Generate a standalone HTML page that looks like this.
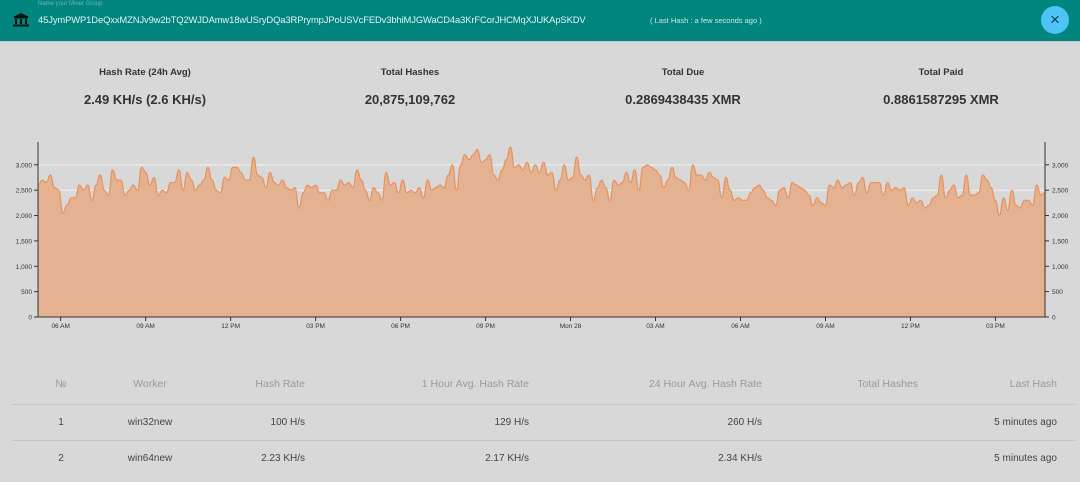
<!DOCTYPE html>
<html><head><meta charset="utf-8"><style>
body{margin:0;width:1080px;height:482px;background:#d8d8d8;font-family:"Liberation Sans",sans-serif;overflow:hidden;position:relative}
.abs{position:absolute}
#hdr{left:0;top:0;width:1080px;height:41px;background:#00857f;border-bottom:1px solid #c8c8c8}
.stat{position:absolute;width:240px;text-align:center;color:#333;font-weight:bold}
.lbl{font-size:9.5px;top:67px}
.val{font-size:13px;top:92px}
.th,.td{position:absolute;font-size:10px;white-space:nowrap}
.th{color:#999;top:378px;font-size:10.5px}
.td{color:#444}
.sep{position:absolute;left:12px;width:1063px;height:1px;background:#c4c4c4}
</style></head><body>
<div id="hdr" class="abs">
  <div class="abs" style="left:38px;top:1px;font-size:6px;color:#6fb5b0">Name your Miner Group</div>
  <svg class="abs" style="left:13px;top:13px" width="16" height="14"><polygon points="8,0 16,4 0,4" fill="#111"/><rect x="1" y="4" width="14" height="1.5" fill="#111"/><rect x="2" y="6" width="2" height="5" fill="#111"/><rect x="7" y="6" width="2" height="5" fill="#111"/><rect x="12" y="6" width="2" height="5" fill="#111"/><rect x="0" y="11.5" width="16" height="2" fill="#111"/></svg>
  <div class="abs" style="left:38px;top:14px;font-size:9.4px;color:#e6f3f2;letter-spacing:-0.1px">45JymPWP1DeQxxMZNJv9w2bTQ2WJDAmw18wUSryDQa3RPrympJPoUSVcFEDv3bhiMJGWaCD4a3KrFCorJHCMqXJUKApSKDV</div>
  <div class="abs" style="left:650px;top:16px;font-size:7.5px;color:#cfe8e6">( Last Hash : a few seconds ago )</div>
  <div class="abs" style="left:1041px;top:6px;width:28px;height:28px;border-radius:50%;background:#4fc3f7;color:#0a3d52;font-size:17px;text-align:center;line-height:27px">×</div>
</div>
<div class="stat lbl" style="left:25px">Hash Rate (24h Avg)</div>
<div class="stat val" style="left:25px">2.49 KH/s (2.6 KH/s)</div>
<div class="stat lbl" style="left:290px">Total Hashes</div>
<div class="stat val" style="left:290px">20,875,109,762</div>
<div class="stat lbl" style="left:563px">Total Due</div>
<div class="stat val" style="left:563px">0.2869438435 XMR</div>
<div class="stat lbl" style="left:821px">Total Paid</div>
<div class="stat val" style="left:821px">0.8861587295 XMR</div>

<svg id="chart" class="abs" style="left:0;top:130px" width="1080" height="210"></svg>

<div class="th" style="left:51px;width:20px;text-align:center">№</div>
<div class="th" style="left:110px;width:80px;text-align:center">Worker</div>
<div class="th" style="left:205px;width:100px;text-align:right">Hash Rate</div>
<div class="th" style="left:379px;width:150px;text-align:right">1 Hour Avg. Hash Rate</div>
<div class="th" style="left:592px;width:170px;text-align:right">24 Hour Avg. Hash Rate</div>
<div class="th" style="left:798px;width:120px;text-align:right">Total Hashes</div>
<div class="th" style="left:957px;width:100px;text-align:right">Last Hash</div>
<div class="sep" style="top:404px"></div>
<div class="td" style="left:51px;width:20px;text-align:center;top:417px">1</div>
<div class="td" style="left:110px;width:80px;text-align:center;top:417px">win32new</div>
<div class="td" style="left:205px;width:100px;text-align:right;top:417px">100 H/s</div>
<div class="td" style="left:379px;width:150px;text-align:right;top:417px">129 H/s</div>
<div class="td" style="left:592px;width:170px;text-align:right;top:417px">260 H/s</div>
<div class="td" style="left:957px;width:100px;text-align:right;top:417px">5 minutes ago</div>
<div class="sep" style="top:440px"></div>
<div class="td" style="left:51px;width:20px;text-align:center;top:453px">2</div>
<div class="td" style="left:110px;width:80px;text-align:center;top:453px">win64new</div>
<div class="td" style="left:205px;width:100px;text-align:right;top:453px">2.23 KH/s</div>
<div class="td" style="left:379px;width:150px;text-align:right;top:453px">2.17 KH/s</div>
<div class="td" style="left:592px;width:170px;text-align:right;top:453px">2.34 KH/s</div>
<div class="td" style="left:957px;width:100px;text-align:right;top:453px">5 minutes ago</div>

<script>
const hashValues=[2600,2700,2650,2800,2550,2500,2050,2200,2350,2350,2600,2500,2600,2300,2600,2800,2500,2400,2900,2700,2700,2400,2500,2600,2500,2950,2850,2600,2750,2400,2500,2450,2650,2650,2900,2500,2850,2700,2500,2600,2700,2950,2700,2500,2450,2750,2700,2950,2950,2850,2700,2700,3150,2800,2750,2550,2850,2650,2600,2700,2550,2500,2550,2150,2450,2600,2550,2600,2450,2450,2300,2500,2500,2700,2600,2650,2550,2900,2700,2500,2300,2550,2450,2300,2850,2600,2650,2450,2700,2450,2500,2450,2550,2350,2700,2500,2550,2600,2550,2800,3000,2500,3000,3200,3100,3200,3300,3050,3100,3200,2800,2700,2900,3100,3350,2950,3000,2900,3050,2850,
3000,2850,3050,2800,2850,2500,2700,3000,2700,2750,3150,2800,2700,2800,2300,2550,2700,2550,2300,2700,2600,2650,2850,2650,2900,2500,2950,3000,2950,2900,2800,2550,2700,2950,2750,2700,2650,2500,3000,2800,2800,2700,2850,2750,2700,2350,2750,2500,2300,2350,2300,2300,2450,2550,2600,2500,2350,2300,2200,2500,2550,2350,2650,2600,2550,2500,2400,2200,2350,2250,2200,2600,2550,2700,2550,2600,2650,2400,2650,2750,2450,2650,2650,2650,2400,2650,2500,2550,2500,2550,2200,2350,2250,2300,2150,2200,2350,2400,2800,2350,2500,2600,2350,2400,2800,2400,2400,2450,2800,2700,2550,2300,2000,2350,2100,2500,2200,2150,2300,2300,2200,2600,2400,2450];
const yTicks=[0,500,1000,1500,2000,2500,3000];
const yTickLabels=["0","500","1,000","1,500","2,000","2,500","3,000"];
const xTickHours=[0,3,6,9,12,15,18,21,24,27,30,33];
const xTickLabels=["06 AM","09 AM","12 PM","03 PM","06 PM","09 PM","Mon 28","03 AM","06 AM","09 AM","12 PM","03 PM"];
const startHour=-0.8, endHour=34.75;
const svg=document.getElementById('chart');
const NS='http://www.w3.org/2000/svg';
const L=38,R=1045,T=12,B=187,yMax=3450;
const xs=h=>L+(h-startHour)/(endHour-startHour)*(R-L);
const ys=v=>B-v/yMax*(B-T);
function mk(t,a){const e=document.createElementNS(NS,t);for(const k in a)e.setAttribute(k,a[k]);svg.appendChild(e);return e;}
yTicks.forEach((v,i)=>{if(v>0){const g=mk('line',{x1:L,x2:R,y1:ys(v),y2:ys(v),stroke:'#f2f2f2','stroke-width':1});

}});
const n=hashValues.length;
const hOf=i=>startHour+i/(n-1)*(endHour-startHour);
let d='M'+xs(hOf(0))+','+ys(hashValues[0]);
for(let i=1;i<n;i++){const x0=xs(hOf(i-1)),x1=xs(hOf(i)),mx=(x0+x1)/2;d+=' C'+mx+','+ys(hashValues[i-1])+' '+mx+','+ys(hashValues[i])+' '+x1+','+ys(hashValues[i]);}
const area=mk('path',{d:d+' L'+R+','+B+' L'+L+','+B+'Z',fill:'#e5b08d','fill-opacity':0.95});


const ln=mk('path',{d:d,fill:'none',stroke:'#e8915a','stroke-width':1.2});


[L,R].forEach((ax,j)=>{const a=mk('line',{x1:ax,x2:ax,y1:T,y2:B,stroke:'#333'});


yTicks.forEach((v,i)=>{mk('line',{x1:ax,x2:ax+(j?4:-4),y1:ys(v),y2:ys(v),stroke:'#333'});
const t=mk('text',{x:ax+(j?7:-6),y:ys(v)+2.5,'font-size':6.5,fill:'#333','text-anchor':j?'start':'end'});t.textContent=yTickLabels[i];

});});
const xa=mk('line',{x1:L,x2:R,y1:B,y2:B,stroke:'#333'});


xTickHours.forEach((h,i)=>{const x=xs(h);mk('line',{x1:x,x2:x,y1:B,y2:B+4,stroke:'#333'});
const t=mk('text',{x:x,y:B+11,'font-size':6.5,fill:'#333','text-anchor':'middle'});t.textContent=xTickLabels[i];

});
</script>
</body></html>
